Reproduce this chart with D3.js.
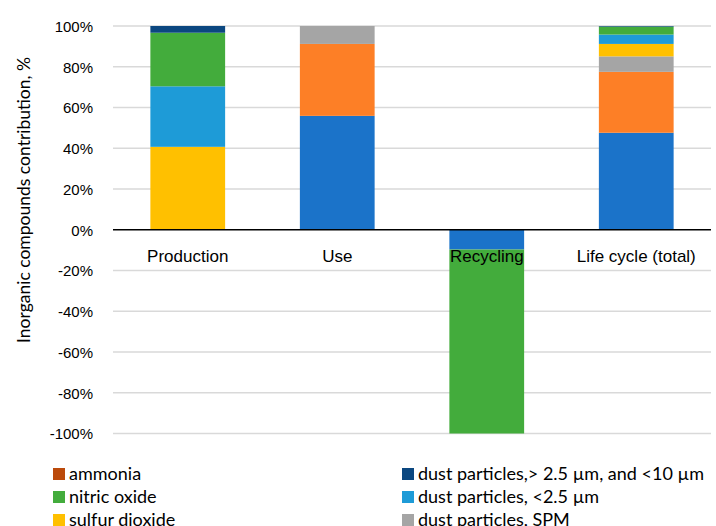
<!DOCTYPE html>
<html>
<head>
<meta charset="UTF-8">
<title>Inorganic compounds contribution</title>
<style>
  body{margin:0;background:#fff;}
  svg{font-family:"Lato","Open Sans",sans-serif;}
  .grid line{stroke:#d9d9d9;stroke-width:1.3;}
  .tick text{fill:#000;}
</style>
</head>
<body>
<script src="https://cdn.jsdelivr.net/npm/d3@7/dist/d3.min.js"></script>
<script>
// stages on the x axis
var stages = ["Production", "Use", "Recycling", "Life cycle (total)"];
// y axis ticks
var yTicks = [-1, -0.8, -0.6, -0.4, -0.2, 0, 0.2, 0.4, 0.6, 0.8, 1];

// series, stacked bottom-up (values per stage, share of total)
var seriesNames = ["carbon monoxide", "nitrogen dioxide", "dust particles, SPM", "sulfur dioxide",
                   "dust particles, <2.5 µm", "nitric oxide", "dust particles,> 2.5 µm, and <10 µm", "ammonia"];
var blueSeries   = [0,     0.559, -0.097, 0.476];
var orangeSeries = [0,     0.353, 0,      0.299];
var spm          = [0,     0.088, 0,      0.076];
var sulfur       = [0.407, 0,     0,      0.061];
var dustFine     = [0.297, 0,     0,      0.046];
var nitricOxide  = [0.263, 0,     -0.903, 0.039];
var dustCoarse   = [0.033, 0,     0,      0.003];
var ammonia      = [0,     0,     0,      0];
var colors = ["#1b73c9", "#fd7f26", "#a5a5a5", "#ffc000", "#1e9bd7", "#43ac3c", "#0b4780", "#bb4a0b"];

// only these entries are shown in the legend
var legendRows = [
  ["ammonia", "dust particles,> 2.5 µm, and <10 µm"],
  ["nitric oxide", "dust particles, <2.5 µm"],
  ["sulfur dioxide", "dust particles, SPM"]
];

var allSeries = [blueSeries, orangeSeries, spm, sulfur, dustFine, nitricOxide, dustCoarse, ammonia];

var W = 716, H = 526;
var svg = d3.select("body").append("svg").attr("width", W).attr("height", H);

var x = d3.scaleBand().domain(stages).range([113, 711]).paddingInner(0.5).paddingOuter(0.25);
var y = d3.scaleLinear().domain([-1, 1]).range([433.5, 26]);

// gridlines
svg.append("g").attr("class", "grid")
  .selectAll("line").data(yTicks.filter(function(d){ return d !== 0; })).enter()
  .append("line")
  .attr("x1", 113).attr("x2", 711)
  .attr("y1", function(d){ return y(d); }).attr("y2", function(d){ return y(d); });

// stacked bars (positives go up from 0, negatives go down)
stages.forEach(function(s, i){
  var pos = 0, neg = 0;
  allSeries.forEach(function(arr, k){
    var v = arr[i];
    if (!v) return;
    var y0, y1;
    if (v > 0) { y0 = pos; y1 = pos + v; pos = y1; }
    else { y0 = neg; y1 = neg + v; neg = y1; }
    svg.append("rect")
      .attr("x", x(s))
      .attr("width", x.bandwidth())
      .attr("y", y(Math.max(y0, y1)))
      .attr("height", Math.abs(y(y0) - y(y1)))
      .attr("fill", colors[k]);
  });
});

// y axis labels (plain hyphen like the original, not unicode minus)
var yAxis = d3.axisLeft(y).tickValues(yTicks).tickSize(0).tickPadding(0)
  .tickFormat(function(d){ return Math.round(d * 100) + "%"; });
var ya = svg.append("g").attr("transform", "translate(93,0)").call(yAxis);
ya.select(".domain").remove();
ya.selectAll("text").style("font-size", "15px").attr("dy", "0.35em");

// zero line
svg.append("line")
  .attr("x1", 113).attr("x2", 711)
  .attr("y1", y(0)).attr("y2", y(0))
  .attr("stroke", "#000").attr("stroke-width", 1.5);

// category labels
var xa = svg.append("g").attr("transform", "translate(0," + y(0) + ")")
  .call(d3.axisBottom(x).tickSize(0).tickPadding(0));
xa.select(".domain").remove();
xa.selectAll("text").style("font-size", "17px").attr("y", 32).attr("dy", "0");

// y axis title
svg.append("text")
  .attr("transform", "translate(30,200) rotate(-90)")
  .attr("text-anchor", "middle")
  .style("font-size", "17.5px")
  .text("Inorganic compounds contribution, %");

// legend
var colX = [53, 402];
legendRows.forEach(function(row, r){
  row.forEach(function(name, c){
    var k = seriesNames.indexOf(name);
    var g = svg.append("g").attr("transform", "translate(" + colX[c] + "," + (474 + r * 23) + ")");
    g.append("rect").attr("x", 0).attr("y", -6).attr("width", 12).attr("height", 12).attr("fill", colors[k]);
    g.append("text").attr("x", 16).attr("dy", "0.35em").style("font-size", "18px").text(name);
  });
});
</script>
</body>
</html>
